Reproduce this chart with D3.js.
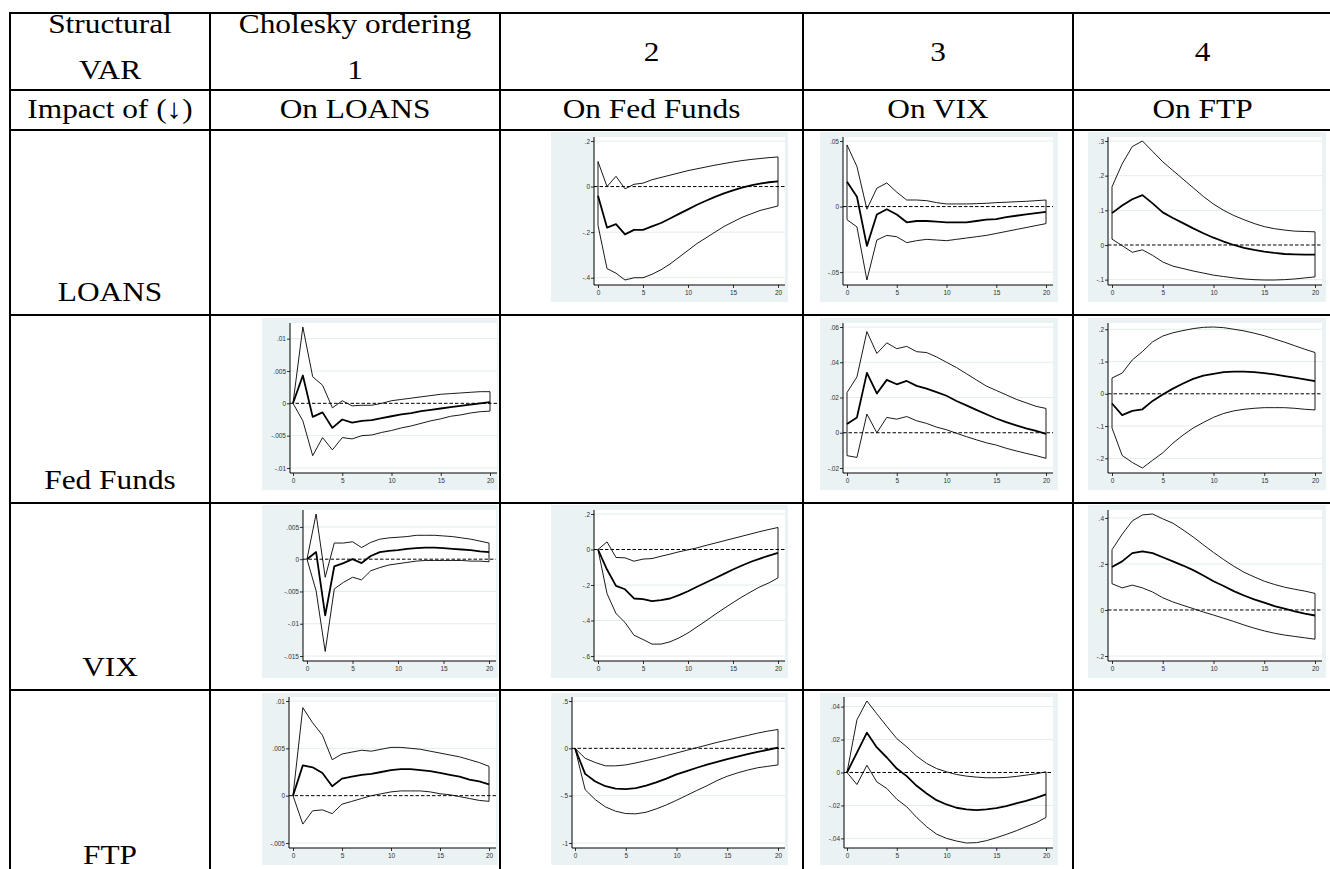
<!DOCTYPE html>
<html>
<head>
<meta charset="utf-8">
<script src="https://cdn.jsdelivr.net/npm/d3@7"></script>
<style>
  body { margin: 0; background: #fff; }
</style>
</head>
<body>
<div id="area"></div>
<script>
// ---- table text ----
const shocks = ["LOANS", "Fed Funds", "VIX", "FTP"]
const responses = ["On LOANS", "On Fed Funds", "On VIX", "On FTP"]
const orderLabels = ["1", "2", "3", "4"]
const horizon = d3.range(0, 21)
const xTicks = [0, 5, 10, 15, 20]

// ---- impulse responses, h = 0..20 ----
// Fed Funds <- LOANS
const ffLoansHi  = [.11, .0, .045, -.01, .01, .015, .03, .04, .05, .06, .07, .078, .086, .094, .101, .108, .114, .119, .123, .127, .13]
const ffLoansMid = [-.04, -.18, -.165, -.21, -.19, -.19, -.175, -.16, -.14, -.12, -.10, -.08, -.062, -.045, -.03, -.017, -.005, .005, .013, .019, .023]
const ffLoansLo  = [-.17, -.36, -.38, -.41, -.40, -.40, -.385, -.365, -.34, -.31, -.28, -.25, -.225, -.2, -.175, -.155, -.135, -.12, -.105, -.095, -.085]
// VIX <- LOANS
const vixLoansHi  = [.047, .0305, -.002, .014, .018, .011, .005, .005, .0045, .003, .002, .002, .002, .0022, .0025, .003, .0033, .0037, .004, .0045, .005]
const vixLoansMid = [.019, .0075, -.03, -.006, -.002, -.006, -.012, -.011, -.011, -.0115, -.012, -.012, -.012, -.011, -.010, -.0095, -.008, -.007, -.006, -.005, -.004]
const vixLoansLo  = [-.01, -.0155, -.056, -.0255, -.022, -.023, -.0275, -.026, -.025, -.0255, -.026, -.025, -.024, -.023, -.022, -.0205, -.019, -.0175, -.016, -.0145, -.013]
// FTP <- LOANS
const ftpLoansHi  = [.168, .234, .284, .30, .27, .24, .215, .19, .165, .14, .118, .10, .085, .073, .062, .053, .047, .043, .04, .039, .038]
const ftpLoansMid = [.092, .114, .132, .144, .12, .094, .078, .063, .048, .034, .021, .01, .0, -.008, -.014, -.019, -.023, -.026, -.027, -.028, -.028]
const ftpLoansLo  = [.017, -.002, -.021, -.014, -.03, -.049, -.061, -.068, -.075, -.081, -.087, -.091, -.095, -.098, -.1, -.101, -.101, -.1, -.098, -.095, -.092]
// LOANS <- Fed Funds
const loansFedHi  = [0, .0118, .0041, .0028, -.0007, .0004, -.0004, -.0003, -.0003, 0, .0004, .0006, .0008, .001, .0012, .0014, .0015, .0016, .0017, .0018, .0018]
const loansFedMid = [0, .0043, -.0021, -.0014, -.0038, -.0025, -.003, -.0027, -.0026, -.0023, -.002, -.0017, -.0015, -.0012, -.001, -.0008, -.0006, -.0004, -.0002, 0, .0002]
const loansFedLo  = [0, -.0027, -.0081, -.0053, -.0072, -.0053, -.0055, -.005, -.0049, -.0045, -.0042, -.0038, -.0035, -.0031, -.0027, -.0024, -.002, -.0018, -.0015, -.0013, -.0012]
// VIX <- Fed Funds
const vixFedHi  = [.0228, .0317, .0574, .045, .051, .0477, .049, .046, .0455, .043, .04, .037, .0335, .03, .0265, .024, .0215, .019, .017, .015, .0138]
const vixFedMid = [.0049, .0087, .034, .0223, .03, .0275, .0294, .0266, .025, .023, .021, .018, .0155, .013, .0105, .0081, .006, .0042, .0025, .001, -.0006]
const vixFedLo  = [-.013, -.014, .0106, 0, .0087, .0077, .0092, .0068, .0053, .0032, .0017, -.0003, -.0022, -.004, -.0057, -.007, -.0088, -.0103, -.0117, -.013, -.0145]
// FTP <- Fed Funds
const ftpFedHi  = [.049, .064, .105, .131, .161, .179, .189, .196, .202, .206, .207, .205, .2, .195, .188, .18, .17, .16, .149, .138, .128]
const ftpFedMid = [-.03, -.066, -.053, -.048, -.022, -.002, .016, .032, .046, .056, .062, .067, .069, .069, .067, .064, .06, .055, .05, .045, .039]
const ftpFedLo  = [-.106, -.191, -.213, -.23, -.206, -.183, -.153, -.128, -.106, -.089, -.073, -.061, -.053, -.048, -.045, -.043, -.043, -.043, -.045, -.048, -.05]
// LOANS <- VIX
const loansVixHi  = [0, .007, -.0028, .0025, .0025, .0027, .0018, .0026, .0031, .0033, .0034, .0035, .0037, .0037, .0037, .0036, .0035, .0033, .0031, .0028, .0025]
const loansVixMid = [0, .0011, -.0087, -.0011, -.0006, 0, -.0006, .0005, .0011, .0013, .0014, .0016, .0017, .0018, .0018, .0017, .0016, .0015, .0014, .0012, .0011]
const loansVixLo  = [0, -.0049, -.0143, -.0046, -.0036, -.0028, -.0032, -.0018, -.0013, -.0009, -.0007, -.0005, -.0003, -.0002, -.0002, -.0002, -.0002, -.0002, -.0003, -.0003, -.0004]
// Fed Funds <- VIX
const ffVixHi  = [0, .043, -.045, -.047, -.066, -.054, -.051, -.038, -.026, -.013, -.002, .009, .023, .036, .049, .062, .075, .088, .101, .113, .124]
const ffVixMid = [0, -.113, -.205, -.224, -.276, -.28, -.291, -.285, -.276, -.257, -.235, -.21, -.186, -.162, -.137, -.113, -.09, -.069, -.051, -.034, -.019]
const ffVixLo  = [0, -.248, -.361, -.411, -.483, -.507, -.533, -.533, -.52, -.498, -.47, -.436, -.402, -.366, -.332, -.299, -.267, -.238, -.21, -.188, -.16]
// FTP <- VIX
const ftpVixHi  = [.262, .329, .387, .413, .417, .396, .377, .348, .317, .283, .25, .219, .19, .164, .144, .125, .111, .099, .09, .082, .072]
const ftpVixMid = [.187, .211, .247, .255, .247, .229, .211, .193, .173, .15, .125, .104, .082, .063, .046, .032, .017, .006, -.006, -.016, -.024]
const ftpVixLo  = [.114, .096, .108, .096, .078, .053, .035, .02, .006, -.009, -.022, -.036, -.05, -.065, -.079, -.091, -.101, -.109, -.115, -.121, -.127]
// LOANS <- FTP
const loansFtpHi  = [0, .0093, .0077, .0064, .0038, .0044, .0046, .0048, .0047, .0049, .0051, .0051, .005, .0049, .0047, .0045, .0043, .0041, .0038, .0035, .0031]
const loansFtpMid = [0, .0032, .003, .0024, .001, .0018, .002, .0022, .0023, .0025, .0027, .0028, .0028, .0027, .0026, .0024, .0022, .002, .0017, .0015, .0012]
const loansFtpLo  = [0, -.003, -.0016, -.0015, -.0019, -.0009, -.0006, -.0003, 0, .0002, .0004, .0005, .0005, .0005, .0004, .0002, .0001, -.0001, -.0003, -.0005, -.0006]
// Fed Funds <- FTP
const ffFtpHi  = [0, -.105, -.15, -.185, -.185, -.175, -.154, -.13, -.105, -.077, -.049, -.021, .007, .035, .063, .087, .112, .136, .161, .182, .199]
const ffFtpMid = [0, -.27, -.35, -.40, -.425, -.43, -.42, -.395, -.36, -.32, -.275, -.24, -.205, -.172, -.142, -.114, -.087, -.062, -.038, -.015, .008]
const ffFtpLo  = [0, -.437, -.542, -.619, -.664, -.689, -.692, -.675, -.64, -.598, -.549, -.497, -.445, -.395, -.34, -.295, -.26, -.23, -.205, -.19, -.175]
// VIX <- FTP
const vixFtpHi  = [0, .032, .0434, .0356, .028, .0206, .0156, .0099, .0055, .0024, .0004, -.0012, -.0022, -.0028, -.0032, -.0032, -.003, -.0024, -.0016, -.0008, .0004]
const vixFtpMid = [0, .0121, .0242, .0152, .0091, .0024, -.0022, -.0081, -.0127, -.0168, -.0194, -.0214, -.0224, -.0228, -.0224, -.0216, -.0204, -.0188, -.0172, -.0154, -.0133]
const vixFtpLo  = [0, -.0073, .0044, -.0057, -.0097, -.0162, -.0208, -.0273, -.0329, -.0374, -.04, -.0416, -.0428, -.0426, -.0414, -.0396, -.0376, -.0354, -.0329, -.0305, -.0273]

// y tick values per panel
const ffLoansTicks = [.2, 0, -.2, -.4]
const vixLoansTicks = [.05, 0, -.05]
const ftpLoansTicks = [.3, .2, .1, 0, -.1]
const loansFedTicks = [.01, .005, 0, -.005, -.01]
const vixFedTicks = [.06, .04, .02, 0, -.02]
const ftpFedTicks = [.2, .1, 0, -.1, -.2]
const loansVixTicks = [.005, 0, -.005, -.01, -.015]
const ffVixTicks = [.2, 0, -.2, -.4, -.6]
const ftpVixTicks = [.4, .2, 0, -.2]
const loansFtpTicks = [.01, .005, 0, -.005]
const ffFtpTicks = [.5, 0, -.5, -1]
const vixFtpTicks = [.04, .02, 0, -.02, -.04]

// ---- layout ----
const W = 1330, H = 869
const colLines = [10, 210, 500, 803, 1073, 1332]
const rowLines = [13, 90, 130, 315, 503, 690]
const panelCols = [[262, 498], [551, 788], [820, 1058], [1088, 1326]]
const panelRows = [{bg: 132, top: 137, axis: 285}, {bg: 318, top: 323, axis: 473},
                   {bg: 505, top: 510, axis: 661}, {bg: 693, top: 697, axis: 848}]

// row = shock, col = response; yAxisX, x at h=0, x at h=20
const panels = [
  {row: 0, col: 1, hi: ffLoansHi, mid: ffLoansMid, lo: ffLoansLo, ticks: ffLoansTicks, ax: 594, x0: 598, x20: 778},
  {row: 0, col: 2, hi: vixLoansHi, mid: vixLoansMid, lo: vixLoansLo, ticks: vixLoansTicks, ax: 843, x0: 847, x20: 1046},
  {row: 0, col: 3, hi: ftpLoansHi, mid: ftpLoansMid, lo: ftpLoansLo, ticks: ftpLoansTicks, ax: 1108, x0: 1112, x20: 1315},
  {row: 1, col: 0, hi: loansFedHi, mid: loansFedMid, lo: loansFedLo, ticks: loansFedTicks, ax: 290, x0: 293, x20: 490},
  {row: 1, col: 2, hi: vixFedHi, mid: vixFedMid, lo: vixFedLo, ticks: vixFedTicks, ax: 843, x0: 847, x20: 1046},
  {row: 1, col: 3, hi: ftpFedHi, mid: ftpFedMid, lo: ftpFedLo, ticks: ftpFedTicks, ax: 1108, x0: 1112, x20: 1315},
  {row: 2, col: 0, hi: loansVixHi, mid: loansVixMid, lo: loansVixLo, ticks: loansVixTicks, ax: 303, x0: 307, x20: 489},
  {row: 2, col: 1, hi: ffVixHi, mid: ffVixMid, lo: ffVixLo, ticks: ffVixTicks, ax: 594, x0: 598, x20: 778},
  {row: 2, col: 3, hi: ftpVixHi, mid: ftpVixMid, lo: ftpVixLo, ticks: ftpVixTicks, ax: 1108, x0: 1112, x20: 1315},
  {row: 3, col: 0, hi: loansFtpHi, mid: loansFtpMid, lo: loansFtpLo, ticks: loansFtpTicks, ax: 289, x0: 293, x20: 489},
  {row: 3, col: 1, hi: ffFtpHi, mid: ffFtpMid, lo: ffFtpLo, ticks: ffFtpTicks, ax: 572, x0: 575, x20: 778},
  {row: 3, col: 2, hi: vixFtpHi, mid: vixFtpMid, lo: vixFtpLo, ticks: vixFtpTicks, ax: 844, x0: 847, x20: 1046}
]

const serif = "'Liberation Serif', 'Times New Roman', serif"
const stretch = 1.12

const svg = d3.select("#area").append("svg")
  .attr("width", W)
  .attr("height", H)
  .style("display", "block")

// stata style label: .2, -.005, 0
const stataFmt = v => String(+v.toFixed(4)).replace(/^(-?)0\./, "$1.")

function headText(x, y, txt) {
  svg.append("text")
    .attr("transform", `translate(${x},${y}) scale(${stretch},1)`)
    .attr("text-anchor", "middle")
    .attr("font-family", serif)
    .attr("font-size", 28)
    .attr("fill", "#000")
    .text(txt)
}

function colMid(i) { return (colLines[i] + colLines[i + 1]) / 2 }

function drawPanel(p) {
  const [bx0, bx1] = panelCols[p.col]
  const r = panelRows[p.row]
  const g = svg.append("g")

  g.append("rect")
    .attr("x", bx0).attr("y", r.bg)
    .attr("width", bx1 - bx0).attr("height", r.axis + 17 - r.bg)
    .attr("fill", "#eaf2f3")

  const right = p.x20 + 7
  const x = d3.scaleLinear().domain([0, 20]).range([p.x0, p.x20])
  const ext = d3.extent([...p.hi, ...p.lo, ...p.ticks])
  const y = d3.scaleLinear().domain(ext).range([r.axis - 5, r.top + 4])

  g.append("rect")
    .attr("x", p.ax).attr("y", r.top)
    .attr("width", right - p.ax).attr("height", r.axis - r.top)
    .attr("fill", "#fff")

  g.append("g").selectAll("line")
    .data(p.ticks.filter(t => t !== 0))
    .join("line")
    .attr("x1", p.ax).attr("x2", right)
    .attr("y1", d => y(d)).attr("y2", d => y(d))
    .attr("stroke", "#e3eced")
    .attr("stroke-width", 1)

  g.append("line")
    .attr("x1", p.ax).attr("x2", right)
    .attr("y1", y(0)).attr("y2", y(0))
    .attr("stroke", "#000")
    .attr("stroke-width", 1)
    .attr("stroke-dasharray", "3.5,2")

  const band = horizon.map(h => [x(h), y(p.hi[h])])
    .concat(horizon.slice().reverse().map(h => [x(h), y(p.lo[h])]))
  g.append("path")
    .attr("d", d3.line()(band) + "Z")
    .attr("fill", "none")
    .attr("stroke", "#000")
    .attr("stroke-width", 0.9)
    .attr("stroke-linejoin", "round")

  g.append("path")
    .attr("d", d3.line().x(h => x(h)).y(h => y(p.mid[h]))(horizon))
    .attr("fill", "none")
    .attr("stroke", "#000")
    .attr("stroke-width", 1.8)
    .attr("stroke-linejoin", "round")

  const yAxis = g.append("g")
    .attr("transform", `translate(${p.ax},0)`)
    .call(d3.axisLeft(y).tickValues(p.ticks).tickSize(3).tickPadding(1).tickFormat(stataFmt))
  const xAxis = g.append("g")
    .attr("transform", `translate(0,${r.axis})`)
    .call(d3.axisBottom(x).tickValues(xTicks).tickSize(3).tickPadding(2).tickFormat(d3.format("d")))
  yAxis.select(".domain").remove()
  xAxis.select(".domain").remove()
  for (const a of [yAxis, xAxis]) {
    a.selectAll("text").attr("font-family", "'Liberation Sans', Arial, sans-serif").attr("font-size", 6.5).attr("fill", "#333")
    a.selectAll(".tick line").attr("stroke", "#000").attr("stroke-width", 0.8)
  }
  g.append("path")
    .attr("d", `M${p.ax},${r.top}V${r.axis}H${right}`)
    .attr("fill", "none")
    .attr("stroke", "#000")
    .attr("stroke-width", 1)
}

panels.forEach(drawPanel)

// ---- table rules ----
rowLines.forEach(yy => {
  svg.append("line")
    .attr("x1", colLines[0] - 1).attr("x2", W)
    .attr("y1", yy).attr("y2", yy)
    .attr("stroke", "#000").attr("stroke-width", 2)
})
colLines.forEach(xx => {
  svg.append("line")
    .attr("x1", xx).attr("x2", xx)
    .attr("y1", rowLines[0] - 1).attr("y2", H)
    .attr("stroke", "#000").attr("stroke-width", 2)
})

// ---- header text ----
headText(colMid(0), 33, "Structural")
headText(colMid(0), 79, "VAR")
headText(colMid(1), 33, "Cholesky ordering")
headText(colMid(1), 79, orderLabels[0])
orderLabels.slice(1).forEach((t, i) => headText(colMid(i + 2), 61, t))
headText(colMid(0), 118, "Impact of (\u2193)")
responses.forEach((t, i) => headText(colMid(i + 1), 118, t))

const rowBottoms = [315, 503, 690, 878]
shocks.forEach((s, i) => headText(colMid(0), rowBottoms[i] - 14, s))
</script>
</body>
</html>
